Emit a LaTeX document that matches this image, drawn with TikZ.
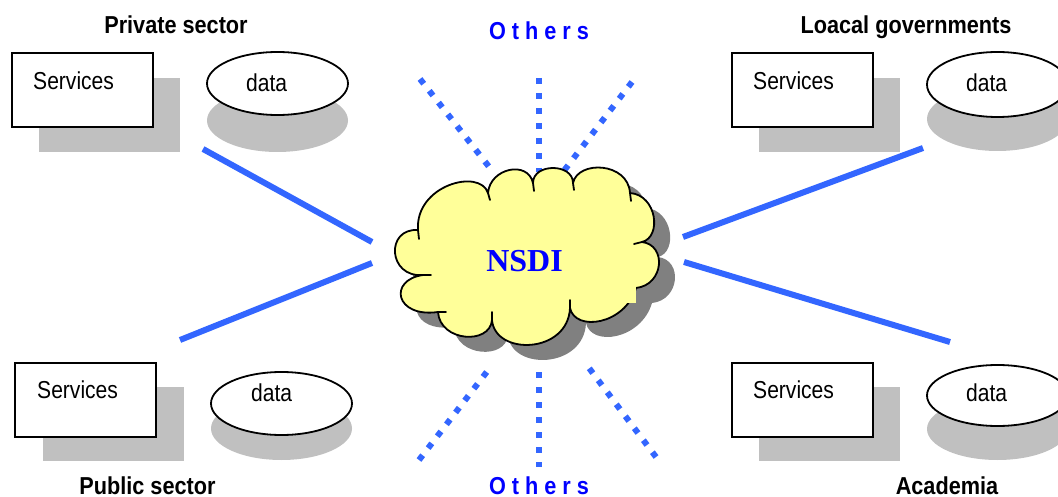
\documentclass[tikz,border=0pt]{standalone}
\usepackage{fontspec}
\setmainfont{Liberation Sans}
\newfontfamily\narrowsans[FakeStretch=0.86]{Liberation Sans}
\newfontfamily\narrowbold[FakeStretch=0.885]{Liberation Sans}
\newfontfamily\serifbold{Liberation Serif}
\usetikzlibrary{shapes.geometric}

\definecolor{linkblue}{RGB}{51,102,255}
\definecolor{labelblue}{RGB}{0,0,255}
\definecolor{shadowgray}{RGB}{192,192,192}
\definecolor{cloudshadow}{RGB}{128,128,128}
\definecolor{cloudfill}{RGB}{255,255,153}

\tikzset{
  % outline of the NSDI cloud, one bezier per puff
  cloudoutline/.style={insert path={
    (418,230) .. controls (415,185) and (480,168) .. (488,193)
              .. controls (490,168) and (528,160) .. (533,183)
              .. controls (533,163) and (573,163) .. (573,183)
              .. controls (578,160) and (628,162) .. (630,193)
              .. controls (657,195) and (662,237) .. (642,242)
              .. controls (667,245) and (664,285) .. (636,288)
              .. controls (625,325) and (575,332) .. (570,308)
              .. controls (568,354) and (495,356) .. (492,320)
              .. controls (490,345) and (440,342) .. (438,312)
              .. controls (395,318) and (388,280) .. (423,275)
              .. controls (388,278) and (385,228) .. (418,230) -- cycle}},
  svcbox/.style={draw=black, line width=1.8pt, fill=white, inner sep=0,
                 minimum width=141pt, minimum height=74pt, anchor=north west},
  dataell/.style={ellipse, draw=black, line width=1.8pt, fill=white, inner sep=0,
                  minimum width=141pt, minimum height=63pt},
  boxshade/.style={fill=shadowgray},
  svctext/.style={anchor=base west, inner sep=0,
                  font=\narrowsans\fontsize{24.5}{29}\selectfont},
  grouplabel/.style={anchor=base, inner sep=0,
                     font=\narrowbold\bfseries\fontsize{24.5}{29}\selectfont},
  otherslabel/.style={grouplabel, text=labelblue},
  link/.style={draw=linkblue, line width=6pt},
  dotlink/.style={draw=linkblue, line width=6pt, dash pattern=on 6pt off 9pt},
  cusptail/.style={draw=black, line width=1.8pt, line cap=round},
}

\begin{document}
\begin{tikzpicture}[x=1pt, y=-1pt]
\useasboundingbox (0,0) rectangle (1058,497);
\clip (0,0) rectangle (1058,497);

% ---------- group labels ----------
\node[grouplabel] (lbl-private) at (176,33.5) {Private sector};
\node[grouplabel] (lbl-local)   at (906,33.5) {Loacal governments};
\node[grouplabel] (lbl-public)  at (147.5,494.5) {Public sector};
\node[grouplabel] (lbl-academia) at (947,494.5) {Academia};
\node[otherslabel] (lbl-others-top) at (539,39.5) {O t h e r s};
\node[otherslabel] (lbl-others-bot) at (539,494) {O t h e r s};

% ---------- private sector ----------
\fill[boxshade] (39,78) rectangle (180,152);
\node[svcbox] (tl-box) at (11,52) {};
\node[svctext] (tl-svc) at (33,90) {Services};
\fill[boxshade] (277.5,120.5) ellipse (70.5 and 31.5);
\node[dataell] (tl-data) at (277.5,83.5) {};
\node[svctext] (tl-dtxt) at (246,91.7) {data};

% ---------- local governments ----------
\fill[boxshade] (759,78) rectangle (900,152);
\node[svcbox] (tr-box) at (731,52) {};
\node[svctext] (tr-svc) at (753,90) {Services};
\fill[boxshade] (997.5,119) ellipse (70.5 and 32);
\node[dataell, minimum height=65pt] (tr-data) at (997.5,84.5) {};
\node[svctext] (tr-dtxt) at (966,91.7) {data};

% ---------- public sector ----------
\fill[boxshade] (43,387) rectangle (184,461);
\node[svcbox] (bl-box) at (14,362) {};
\node[svctext] (bl-svc) at (37,398) {Services};
\fill[boxshade] (281.5,428.5) ellipse (70.5 and 31.5);
\node[dataell] (bl-data) at (281.5,403.5) {};
\node[svctext] (bl-dtxt) at (251,401.7) {data};

% ---------- academia ----------
\fill[boxshade] (759,387) rectangle (900,461);
\node[svcbox] (br-box) at (731,362) {};
\node[svctext] (br-svc) at (753,398) {Services};
\fill[boxshade] (997.5,429) ellipse (70.5 and 31);
\node[dataell, minimum height=61pt] (br-data) at (997.5,395.5) {};
\node[svctext] (br-dtxt) at (966,401.7) {data};

% ---------- link end points ----------
\coordinate (tl-end) at (203,149);
\coordinate (bl-end) at (180,340);
\coordinate (tr-end) at (923,148);
\coordinate (br-end) at (950,342);
\coordinate (cw-up)  at (372,242);
\coordinate (cw-lo)  at (372,263);
\coordinate (ce-up)  at (683,237);
\coordinate (ce-lo)  at (684,262);

\coordinate (ot-l) at (420,79);  \coordinate (ct-l) at (490,168);
\coordinate (ot-m) at (539,78);  \coordinate (ct-m) at (539,172);
\coordinate (ot-r) at (632,82);  \coordinate (ct-r) at (563,172);
\coordinate (ob-l) at (419,460); \coordinate (cb-l) at (489,369);
\coordinate (ob-m) at (539,372); \coordinate (cb-m) at (539,467);
\coordinate (ob-r) at (656,457); \coordinate (cb-r) at (586,364);

% dotted links to the other participants
\draw[dotlink] (ot-l) -- (ct-l);
\draw[dotlink] (ot-m) -- (ct-m);
\draw[dotlink] (ot-r) -- (ct-r);
\draw[dotlink] (ob-l) -- (cb-l);
\draw[dotlink] (ob-m) -- (cb-m);
\draw[dotlink] (ob-r) -- (cb-r);

% ---------- NSDI cloud ----------
\fill[cloudshadow, shift={(16,15)}, cloudoutline];
\filldraw[fill=cloudfill, draw=black, line width=1.8pt, line join=round, cloudoutline];
\draw[cusptail] (418,230) -- (419,239);
\draw[cusptail] (488,193) -- (490,200);
\draw[cusptail] (533,183) -- (534,191);
\draw[cusptail] (573,183) -- (574,190);
\draw[cusptail] (630,193) -- (631,201);
\draw[cusptail] (642,242) -- (634,244);
\draw[cusptail] (570,308) -- (570,300);
\draw[cusptail] (492,320) -- (492,312);
\draw[cusptail] (438,312) -- (446,312);
\draw[cusptail] (423,275) -- (431,275);
\fill[cloudfill] (612,280) rectangle (636,303);
\node[anchor=base, inner sep=0, text=labelblue,
      font=\serifbold\bfseries\fontsize{32}{38}\selectfont] (nsdi) at (524.5,271.5) {NSDI};

% ---------- solid links ----------
\draw[link] (tl-end) -- (cw-up);
\draw[link] (bl-end) -- (cw-lo);
\draw[link] (tr-end) -- (ce-up);
\draw[link] (br-end) -- (ce-lo);
\end{tikzpicture}
\end{document}
